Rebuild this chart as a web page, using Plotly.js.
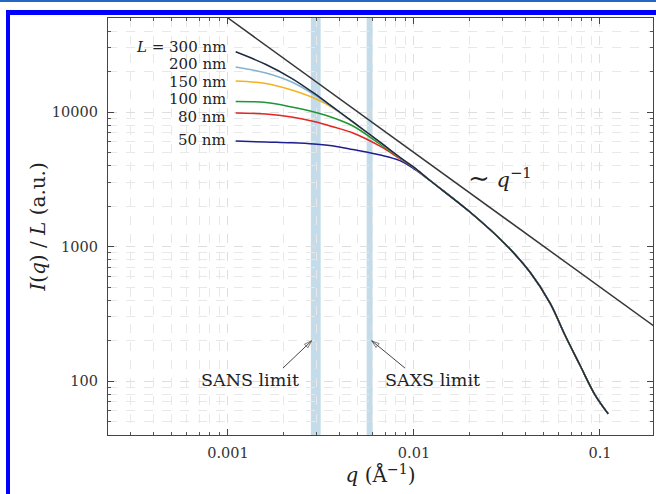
<!DOCTYPE html>
<html>
<head>
<meta charset="utf-8">
<script src="https://cdn.plot.ly/plotly-3.0.1.min.js"></script>
<style>
  html, body { margin: 0; padding: 0; background: #ffffff; }
  #wrap { position: relative; width: 656px; height: 494px; overflow: hidden; }
  #chart { position: absolute; left: 0; top: 0; width: 656px; height: 494px; }
  #topline { position: absolute; left: 0; top: 0; width: 656px; height: 2px; background: #2466c4; }
  #frame { position: absolute; left: 6px; top: 10px; width: 700px; height: 600px;
           border-left: 4px solid #0000ff; border-top: 5px solid #0000ff; pointer-events: none; }
</style>
</head>
<body>
<div id="wrap">
  <div id="chart"></div>
  <div id="topline"></div>
  <div id="frame"></div>
</div>
<script>
// ---- data ----
// q values (1/Å) where the individual curves were read (low-q part)
const qLow = [0.0011, 0.0016, 0.0022, 0.0029, 0.0037, 0.0047, 0.0066, 0.0084, 0.01];
// I(q)/L for each rod length at qLow
const I300 = [28030, 22560, 17810, 13800, 10780, 8440, 5940, 4600, 3880];
const I200 = [21610, 19500, 16710, 13500, 10700, 8400, 5920, 4590, 3875];
const I150 = [17000, 16300, 14580, 12700, 10650, 8380, 5900, 4580, 3870];
const I100 = [11970, 11770, 10900, 10000, 9030, 7870, 5750, 4560, 3860];
const I80  = [9830, 9660, 9180, 8500, 7740, 6980, 5550, 4500, 3850];
const I50  = [6090, 5980, 5900, 5780, 5590, 5260, 4790, 4350, 3780];
// common high-q tail shared by all curves
const qTail = [0.0122, 0.02, 0.0308, 0.042, 0.0539, 0.0648, 0.0781, 0.094, 0.1108];
const iTail = [3096, 1805, 1050, 646, 380, 220, 131, 79, 57];
// ~q^-1 reference line
const qLine = [0.001, 0.2];
const iLine = [50000, 250];
// detector limits (q ranges of the shaded bands)
const sansBand = [0.00279, 0.00315];
const saxsBand = [0.00557, 0.0060];
// arrows pointing at the limits: [tail, head]
const sansArrowQ = [0.001975, 0.002818];
const sansArrowI = [124.9, 199.4];
const saxsArrowQ = [0.008945, 0.005924];
const saxsArrowI = [124.9, 199.4];
// labels
const lengthLabels = ['<i>L</i> = 300 nm', '200 nm', '150 nm', '100 nm', '80 nm', '50 nm'];
const xTickVals = [0.001, 0.01, 0.1];
const xTickText = ['0.001', '0.01', '0.1'];
const yTickVals = [100, 1000, 10000];
const yTickText = ['100', '1000', '10000'];

const FONT = 'DejaVu Serif, Liberation Serif, serif';

const series = [
  {y: I50,  color: '#1f1f8f'},
  {y: I80,  color: '#e3261f'},
  {y: I100, color: '#1e9636'},
  {y: I150, color: '#f4b21f'},
  {y: I200, color: '#80b3d3'},
  {y: I300, color: '#1d2a40'}
];

const traces = series.map(s => ({
  type: 'scatter', mode: 'lines',
  x: qLow.concat(qTail), y: s.y.concat(iTail),
  line: {color: s.color, width: 1.5, shape: 'spline', smoothing: 1},
  hoverinfo: 'skip'
}));
traces.push({
  type: 'scatter', mode: 'lines', x: qLine, y: iLine,
  line: {color: '#363636', width: 1.5}, hoverinfo: 'skip'
});
[[sansArrowQ, sansArrowI], [saxsArrowQ, saxsArrowI]].forEach(a => {
  traces.push({
    type: 'scatter', mode: 'lines+markers', x: a[0], y: a[1],
    line: {color: '#444', width: 1},
    marker: {symbol: 'arrow-open', size: [0, 8], angleref: 'previous',
             color: '#444', line: {color: '#444', width: 1}},
    hoverinfo: 'skip', cliponaxis: false
  });
});

const labelY = [4.4870, 4.3569, 4.2268, 4.0967, 3.9665, 3.7918];
const annotations = lengthLabels.map((t, i) => ({
  text: t, x: -3.0, y: labelY[i], xref: 'x', yref: 'y',
  xanchor: 'right', yanchor: 'middle', showarrow: false,
  font: {family: FONT, size: 15, color: '#222'}
}));
annotations.push(
  {text: '<span style="font-size:26px">∼</span> <i>q</i><sup>−1</sup>', x: -1.5376, y: 3.509,
   xref: 'x', yref: 'y', showarrow: false, font: {family: FONT, size: 21, color: '#222'}},
  {text: 'SANS limit', x: -2.8817, y: 2.0074, xref: 'x', yref: 'y',
   showarrow: false, font: {family: FONT, size: 17.5, color: '#222'}},
  {text: 'SAXS limit', x: -1.8978, y: 2.0074, xref: 'x', yref: 'y',
   showarrow: false, font: {family: FONT, size: 17.5, color: '#222'}}
);

const shapes = [sansBand, saxsBand].map(b => ({
  type: 'rect', xref: 'x', yref: 'paper', x0: b[0], x1: b[1], y0: 0, y1: 1,
  fillcolor: '#c4dcea', line: {width: 0}, layer: 'between'
}));

const axisCommon = {
  type: 'log', tickmode: 'array', ticks: 'inside', ticklen: 6, tickwidth: 1,
  tickcolor: '#444', showline: true, linecolor: '#444', linewidth: 1.2,
  mirror: 'allticks', showgrid: true, gridcolor: '#dedede', griddash: 'dash',
  gridwidth: 1, zeroline: false, ticklabelstandoff: 6,
  tickfont: {family: FONT, size: 14.5, color: '#333'},
  minor: {dtick: 'D1', ticks: 'inside', ticklen: 3, tickcolor: '#555',
          showgrid: true, gridcolor: '#e8e8e8', griddash: 'dash', gridwidth: 1}
};

const layout = {
  width: 656, height: 494,
  margin: {l: 108, r: 3, t: 18, b: 59},
  paper_bgcolor: '#ffffff', plot_bgcolor: '#ffffff',
  showlegend: false,
  font: {family: FONT, color: '#333'},
  xaxis: Object.assign({}, axisCommon, {
    range: [-3.645, -0.715], tickvals: xTickVals, ticktext: xTickText,
    ticklabelstandoff: 4,
    title: {text: '<i>q</i> (Å<sup>−1</sup>)', font: {family: FONT, size: 20, color: '#222'}, standoff: 8}
  }),
  yaxis: Object.assign({}, axisCommon, {
    range: [1.599, 4.699], tickvals: yTickVals, ticktext: yTickText,
    title: {text: '<i>I</i>(<i>q</i>) / <i>L</i> (a.u.)', font: {family: FONT, size: 20, color: '#222'}, standoff: 0}
  }),
  shapes: shapes,
  annotations: annotations
};

Plotly.newPlot('chart', traces, layout, {staticPlot: true, displayModeBar: false});
</script>
</body>
</html>
